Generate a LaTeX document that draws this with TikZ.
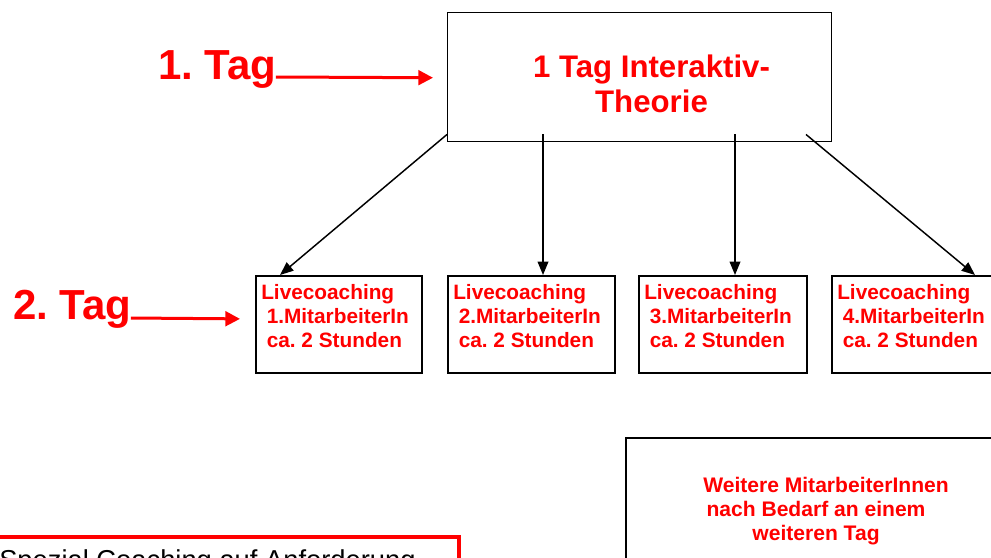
\documentclass[tikz,border=0pt]{standalone}
\usepackage{fontspec}
\setmainfont{Liberation Sans}
\usetikzlibrary{arrows.meta,calc}
\definecolor{tagred}{RGB}{255,0,0}
\frenchspacing
\begin{document}
\begin{tikzpicture}[x=0.75pt,y=-0.75pt,
  frame/.style={draw=black,line width=1.3pt,inner sep=0pt,anchor=north west},
  bigtag/.style={text=tagred,font=\fontsize{31.5}{36}\selectfont\bfseries,inner sep=0pt,anchor=base west},
  toptxt/.style={text=tagred,font=\fontsize{23.4}{26}\selectfont\bfseries,inner sep=0pt,anchor=base},
  boxtxt/.style={text=tagred,font=\fontsize{15.6}{18}\selectfont\bfseries,inner sep=0pt,anchor=base west},
  moretxt/.style={text=tagred,font=\fontsize{15.8}{18}\selectfont\bfseries,inner sep=0pt,anchor=base},
  conn/.style={draw=black,line width=1.1pt,-{Triangle[length=10pt,width=8pt]}},
  redarrow/.style={draw=tagred,line width=2.25pt,-{Triangle[length=11pt,width=11pt]}}]
\useasboundingbox (0,0) rectangle (991,557);

% top box
\node[frame,line width=1.1pt,minimum width=288pt,minimum height=96.75pt] (top) at (447,12) {};
\node[toptxt] (topa) at (651.5,77) {1 Tag Interaktiv-};
\node[toptxt] (topb) at (651.5,112) {Theorie};

% day labels
\node[bigtag] (tag1) at (158,79) {1. Tag};
\node[bigtag] (tag2) at (13,319) {2. Tag};

% lower boxes
\node[frame,minimum width=124.5pt,minimum height=72.75pt] (b1) at (255,275) {};
\node[frame,minimum width=125.25pt,minimum height=72.75pt] (b2) at (447,275) {};
\node[frame,minimum width=126pt,minimum height=72.75pt] (b3) at (638,275) {};
\node[frame,minimum width=125.25pt,minimum height=72.75pt] (b4) at (831,275) {};

\foreach \b/\n in {b1/1,b2/2,b3/3,b4/4}{
  \node[boxtxt] (\b l1) at ($(\b.north west)+(6,24)$) {Livecoaching};
  \node[boxtxt] (\b l2) at ($(\b.north west)+(11.5,48)$) {\n.MitarbeiterIn};
  \node[boxtxt] (\b l3) at ($(\b.north west)+(11.5,72)$) {ca. 2 Stunden};
}

% connectors
\draw[conn] ($(top.south west)+(0,-8)$) -- ($(b1.north west)+(25,0)$);
\draw[conn] ($(top.south west)+(96,-8)$) -- ($(b2.north west)+(96,0)$);
\draw[conn] ($(top.south west)+(288,-8)$) -- ($(b3.north west)+(97,0)$);
\draw[conn] ($(top.south west)+(359,-8)$) -- ($(b4.north west)+(144,0)$);

% red arrows
\draw[redarrow] ($(tag1.base east)+(-1,-2)$) -- ($(top.west)+(-14,0.5)$);
\draw[redarrow] ($(tag2.base east)+(-1,-1)$) -- ($(b1.west)+(-15,-5.5)$);

% bottom right box
\node[frame,minimum width=281.25pt,minimum height=122.25pt] (more) at (625,437) {};
\node[moretxt] (m1) at (826,492) {Weitere MitarbeiterInnen};
\node[moretxt] (m2) at (816,516) {nach Bedarf an einem};
\node[moretxt] (m3) at (816,540) {weiteren Tag};

% bottom left red box
\node[draw=tagred,line width=3pt,inner sep=0pt,anchor=north west,minimum width=350.6pt,minimum height=60pt] (extra) at (-10,535) {};
\node[inner sep=0pt,anchor=base west,font=\fontsize{20.5}{24}\selectfont] (extratxt) at (-1,569) {Spezial Coaching auf Anforderung};
\end{tikzpicture}
\end{document}
